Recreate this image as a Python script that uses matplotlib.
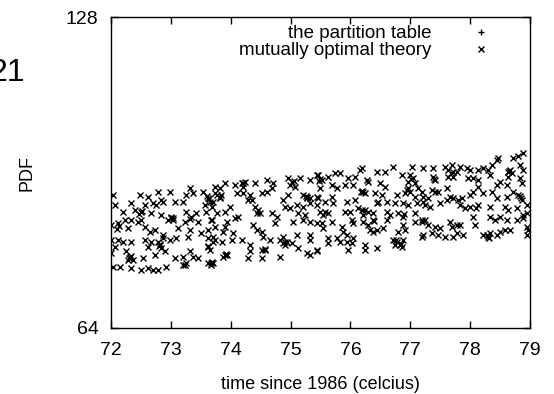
#!/usr/bin/env python3

import matplotlib

matplotlib.use("Agg")
import matplotlib.pyplot as plt
from matplotlib.ticker import FixedLocator, NullLocator

plt.rcParams["font.family"] = ["Liberation Sans", "DejaVu Sans"]

X_TICKS = [72, 73, 74, 75, 76, 77, 78, 79]
Y_TICKS = [64, 128]

# "the partition table" has no points inside the plotted window
partition_x = []
partition_y = []

theory_x_a = [72.03, 72.48, 72.62, 72.79, 72.99, 73.07, 73.32, 73.37, 73.25, 73.54, 73.62, 73.74,
              72.07, 72.33, 72.40, 72.57, 72.70, 72.75, 73.20, 73.57, 73.65,
              72.20, 72.50, 72.67, 72.84, 73.00, 73.25, 73.34, 73.42, 73.59,
              72.00, 72.12, 72.23, 72.33, 72.45, 72.50, 72.95, 73.04, 73.24, 73.45, 73.67,
              72.28, 72.57, 72.65, 72.74, 72.87, 73.12, 73.32, 73.50, 73.62, 73.74,
              72.00, 72.12, 72.20, 72.33, 72.57, 72.67, 72.79, 72.87, 72.99, 73.09, 73.29, 73.62,
              73.70, 72.82, 72.84, 72.62, 72.07,
              72.00, 72.25, 72.32, 72.37, 72.53, 72.74, 72.90, 73.07, 73.20, 73.32, 73.37, 73.45,
              73.62, 73.65, 73.67, 72.28,
              72.03, 72.15, 72.33, 72.50, 72.62, 72.70, 72.79, 72.92, 73.20, 73.62]
theory_y_a = [86.1, 86.1, 85.7, 86.7, 86.7, 84.7, 87.4, 86.5, 86.1, 86.7, 85.5, 86.5,
              84.2, 84.6, 83.2, 84.2, 84.6, 84.2, 84.8, 84.2, 84.8,
              82.9, 82.9, 82.7, 82.3, 82.0, 82.9, 82.0, 82.7, 82.9,
              80.5, 80.9, 81.4, 81.4, 81.0, 81.4, 81.4, 81.8, 81.0, 81.0, 81.4,
              80.0, 80.1, 79.2, 79.6, 78.7, 80.0, 79.6, 79.1, 79.6, 80.1,
              77.9, 77.9, 77.5, 77.5, 77.9, 77.5, 77.5, 78.2, 77.9, 78.2, 78.4, 78.2,
              77.5, 77.0, 76.5, 76.7, 76.7,
              75.7, 75.9, 75.0, 74.5, 74.8, 75.3, 75.9, 74.8, 75.0, 75.9, 75.0, 74.8,
              76.7, 76.2, 74.0, 74.5,
              73.3, 73.3, 73.1, 72.8, 73.1, 72.8, 72.8, 73.3, 73.7, 74.0]

theory_x_b = [73.74, 73.90, 73.82, 74.07, 74.19, 74.21, 74.41, 74.61, 74.71, 74.96, 75.02, 75.07,
              75.16, 75.32, 75.44, 74.99,
              73.77, 73.82, 73.70, 74.10, 74.21, 74.32, 74.52, 74.61, 74.69, 74.29, 74.36, 74.87,
              74.96, 75.21, 75.27, 75.32, 75.44,
              73.69, 73.99, 74.41, 74.46, 74.91, 74.99, 75.11, 75.21, 75.32, 75.44, 73.77, 73.90,
              74.44, 74.49, 75.12, 75.24,
              73.69, 73.94, 74.07, 74.12, 74.69, 74.77, 74.74, 75.04, 75.21, 75.32, 75.44,
              73.90, 73.87, 74.04, 74.37, 74.44, 74.52, 74.66, 74.82, 74.87, 74.94, 75.02, 75.11,
              75.32, 75.32, 73.70, 73.74, 73.85, 74.02, 74.19, 74.54, 74.91,
              74.32, 74.32, 74.52, 74.57, 74.29, 74.52, 74.82, 73.87, 73.94, 75.27, 75.32, 75.44,
              73.69, 75.12]
theory_y_b = [87.6, 88.4, 87.4, 88.0, 88.4, 87.6, 88.4, 89.0, 88.4, 89.4, 88.6, 87.6,
              89.4, 89.0, 90.0, 88.0,
              86.1, 85.5, 84.8, 86.5, 86.5, 86.1, 86.5, 86.7, 87.4, 85.1, 85.1, 85.1,
              86.1, 86.1, 85.7, 85.5, 85.7,
              83.8, 83.8, 83.8, 83.2, 83.8, 83.6, 84.2, 83.8, 84.6, 84.2, 82.7, 82.9,
              82.7, 82.7, 82.7, 82.3,
              81.4, 81.0, 81.8, 81.9, 82.7, 81.9, 80.9, 81.0, 81.4, 81.0, 80.9,
              80.1, 79.2, 79.1, 80.5, 79.6, 79.2, 77.9, 77.9, 78.4, 77.5, 77.4, 78.7,
              78.7, 77.9, 78.4, 77.9, 77.5, 77.9, 77.9, 78.4, 77.0,
              77.0, 75.9, 76.2, 76.2, 74.8, 74.8, 75.0, 75.0, 75.3, 75.7, 75.3, 75.9,
              74.2, 76.5]

theory_x_c = [75.46, 75.52, 75.63, 75.74, 75.83, 75.96, 76.08, 76.16, 76.19, 76.28, 76.29, 76.44,
              76.58, 76.71, 76.86, 77.03, 76.99, 77.05, 76.96, 77.08, 77.13,
              75.49, 75.69, 75.78, 75.91, 76.04, 76.21, 76.24, 76.41, 76.49, 76.58, 76.53, 76.78,
              76.91, 76.99, 77.08, 77.20,
              75.46, 75.58, 75.69, 75.71, 75.94, 76.08, 76.13, 76.44, 76.46, 76.61, 76.74, 76.88,
              76.96, 77.11, 77.21,
              75.49, 75.54, 75.63, 75.91, 75.99, 76.19, 76.21, 76.29, 76.38, 76.61, 76.66, 76.79,
              76.88, 77.08, 77.20,
              75.52, 75.54, 75.69, 76.03, 76.04, 76.21, 76.29, 76.33, 76.38, 76.44, 76.54, 76.61,
              76.88, 76.91, 76.79, 77.08, 77.20,
              75.86, 75.88, 75.94, 76.04, 75.63, 75.78, 75.83, 75.94, 76.03, 75.63, 75.96, 76.24,
              76.24, 76.44, 76.71, 76.78, 76.83, 76.88, 76.86, 76.74, 77.20, 75.44]
theory_y_c = [90.0, 89.0, 89.6, 90.4, 90.4, 89.4, 89.6, 91.0, 91.4, 89.0, 88.6, 90.6,
              90.6, 91.6, 90.0, 91.6, 90.0, 89.4, 88.6, 88.4, 87.4,
              87.4, 88.0, 87.4, 88.0, 88.0, 86.7, 86.5, 86.5, 88.4, 87.6, 86.1, 86.1,
              86.5, 86.7, 85.7, 86.7,
              85.5, 84.8, 85.7, 84.6, 84.8, 85.1, 83.6, 84.6, 84.8, 84.8, 84.6, 84.6,
              84.2, 84.6, 84.8,
              82.9, 82.3, 82.7, 82.9, 82.9, 83.2, 82.3, 82.9, 82.7, 82.9, 82.3, 82.7,
              81.9, 82.7, 81.4,
              80.9, 80.0, 81.0, 81.4, 80.9, 81.0, 80.5, 79.6, 79.2, 79.6, 80.0, 81.4,
              80.5, 79.6, 79.2, 81.0, 81.0,
              80.1, 79.2, 78.7, 78.2, 78.2, 78.2, 77.5, 77.5, 77.4, 77.4, 76.2, 77.0,
              76.2, 76.5, 77.9, 77.5, 77.0, 77.9, 76.7, 77.0, 78.4, 76.2]

theory_x_d = [77.21, 77.38, 77.58, 77.63, 77.70, 77.78, 77.83, 77.95, 78.00, 78.13, 78.21, 78.30,
              78.36, 78.45, 78.47, 78.67, 78.70, 78.72, 78.80, 78.88, 78.83, 78.88,
              77.38, 77.41, 77.63, 77.71, 77.96, 78.05, 78.13, 78.33, 78.50, 78.63, 78.83, 78.87,
              78.62, 78.45,
              77.21, 77.30, 77.36, 77.41, 77.46, 77.61, 77.66, 77.71, 77.80, 77.86, 78.00, 78.05,
              78.13, 78.21, 78.36, 78.45, 78.62, 78.72, 78.80, 78.87, 78.95,
              77.25, 77.33, 77.50, 77.61, 77.83, 77.91, 78.00, 78.13, 78.33, 78.58, 78.63, 78.78,
              78.88, 78.95,
              77.25, 77.30, 77.41, 77.50, 77.66, 77.70, 77.78, 77.83, 78.05, 78.08, 78.33, 78.42,
              78.50, 78.62, 78.78, 78.88, 78.95,
              77.21, 77.36, 77.46, 77.58, 77.71, 77.78, 77.88, 78.21, 78.28, 78.33, 78.45, 78.50,
              78.58, 78.67, 78.95, 78.97]
theory_y_d = [91.4, 91.4, 91.6, 91.0, 92.0, 90.6, 91.6, 91.4, 91.0, 91.0, 91.4, 91.0,
              92.0, 93.1, 93.5, 91.0, 90.4, 93.5, 93.8, 94.6, 92.0, 91.0,
              89.6, 89.0, 89.6, 89.6, 89.4, 89.4, 89.0, 90.0, 88.6, 89.6, 89.4, 88.4,
              88.0, 88.0,
              85.7, 85.5, 87.0, 86.7, 86.7, 87.4, 85.7, 85.5, 85.1, 85.5, 86.1, 86.7,
              87.6, 86.5, 86.7, 85.5, 85.7, 86.7, 86.1, 85.1, 84.2,
              84.2, 83.8, 84.6, 85.1, 84.2, 83.6, 83.8, 84.2, 83.8, 83.8, 83.2, 83.6,
              82.3, 82.7,
              81.4, 80.5, 80.1, 80.0, 81.0, 80.1, 80.5, 80.5, 81.9, 80.5, 81.9, 81.4,
              81.9, 81.4, 81.4, 81.8, 80.1,
              78.7, 79.1, 78.7, 78.4, 78.4, 79.1, 78.7, 78.7, 78.7, 79.1, 78.7, 79.2,
              79.6, 79.6, 78.7, 79.6]

# overlapping points in the dark clumps
theory_x_e = [72.14, 72.10, 72.52, 72.47, 72.84, 72.87, 73.00, 73.03, 72.82, 72.80,
              73.63, 73.60, 73.82, 73.84, 73.62, 73.90, 73.92, 73.67, 73.70, 74.21,
              74.24, 74.58, 74.91, 74.88, 75.05, 75.26, 75.28, 75.49, 75.47, 73.24,
              73.26, 73.32, 72.33, 72.30, 76.18, 76.20, 76.96, 76.94, 77.01, 77.68,
              77.71, 76.90, 76.38, 76.40, 76.76, 76.85, 77.39, 78.63, 78.65, 78.85,
              78.83, 78.30, 78.32, 75.58, 76.24, 78.10]
theory_y_e = [80.4, 79.8, 83.1, 82.6, 85.1, 84.8, 81.8, 81.5, 77.2, 76.8,
              85.3, 85.8, 85.7, 86.0, 76.9, 75.3, 75.5, 73.7, 73.9, 88.4,
              88.6, 76.4, 77.6, 77.3, 88.8, 85.9, 85.5, 89.2, 88.8, 73.7,
              73.9, 81.6, 75.2, 74.8, 86.7, 86.9, 87.4, 87.1, 89.2, 90.4,
              90.6, 82.5, 81.4, 81.2, 77.9, 77.2, 89.2, 90.6, 90.8, 85.5,
              85.8, 78.4, 78.2, 82.9, 83.2, 83.6]

theory_x = theory_x_a + theory_x_b + theory_x_c + theory_x_d + theory_x_e
theory_y = theory_y_a + theory_y_b + theory_y_c + theory_y_d + theory_y_e


def main():
    fig = plt.figure(figsize=(5.54, 3.94), dpi=100)
    ax = fig.add_axes([111 / 554, 1 - 328 / 394, 419 / 554, 311 / 394])

    ax.plot(partition_x, partition_y, linestyle="none", marker="+",
            markersize=5, markeredgewidth=1.0, color="black",
            label="the partition table")
    ax.plot(theory_x, theory_y, linestyle="none", marker="x",
            markersize=5, markeredgewidth=1.0, color="black",
            label="mutually optimal theory")

    ax.set_yscale("log", base=2)
    ax.set_xlim(72, 79)
    ax.set_ylim(64, 128)
    ax.xaxis.set_major_locator(FixedLocator(X_TICKS))
    ax.set_xticklabels([str(t) for t in X_TICKS])
    ax.yaxis.set_major_locator(FixedLocator(Y_TICKS))
    ax.set_yticklabels([str(t) for t in Y_TICKS])
    ax.yaxis.set_minor_locator(NullLocator())
    ax.xaxis.set_minor_locator(NullLocator())
    ax.tick_params(axis="x", direction="in", top=True, length=5, width=1,
                   labelsize=14, pad=10)
    ax.tick_params(axis="y", direction="in", right=True, length=5, width=1,
                   labelsize=14, pad=9)
    for s in ax.spines.values():
        s.set_linewidth(1)

    ax.set_xlabel("time since 1986 (celcius)", fontsize=13)
    ax.set_ylabel("PDF", fontsize=13)
    ax.yaxis.set_label_coords(-0.181, 0.5)
    ax.xaxis.set_label_coords(0.5, -0.155)

    ax.legend(loc="upper right", bbox_to_anchor=(0.943, 1.01), frameon=False,
              markerfirst=False, fontsize=13.5, handlelength=1.5,
              handletextpad=1.9, labelspacing=0.0, borderaxespad=0.2)

    # stray label at the left edge, clipped by the canvas in the original too
    fig.text(-11 / 554, 1 - 73 / 394, "21", ha="left", va="center", fontsize=23)

    fig.savefig("out.png", dpi=100)


if __name__ == "__main__":
    main()
